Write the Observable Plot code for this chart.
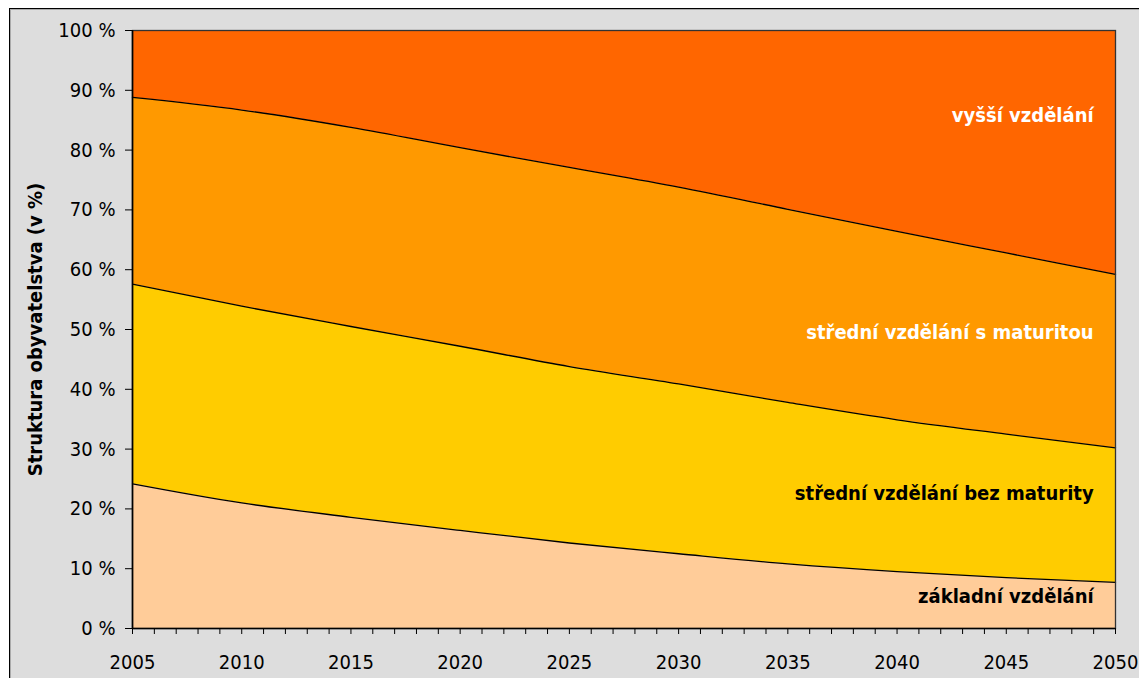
<!DOCTYPE html>
<html>
<head>
<meta charset="utf-8">
<script src="https://cdn.jsdelivr.net/npm/d3@7"></script>
<script src="https://cdn.jsdelivr.net/npm/@observablehq/plot@0.6"></script>
<style>
  html, body { margin: 0; padding: 0; background: #fff; width: 1139px; height: 678px; overflow: hidden; }
  #box { position: absolute; left: 9px; top: 8px; width: 1140px; height: 680px; background: #DDDDDD;
         border-left: 1.5px solid #000; border-top: 1.5px solid #000; box-shadow: inset 1px 1px 0 #aaa; }
  #chart { position: absolute; left: 0; top: 0; }
</style>
</head>
<body>
<div id="box"></div>
<div id="chart"></div>
<script>
const years = [2005, 2010, 2015, 2020, 2025, 2030, 2035, 2040, 2045, 2050];
const categories = ["základní vzdělání", "střední vzdělání bez maturity", "střední vzdělání s maturitou", "vyšší vzdělání"];
const zakladni   = [24.2, 21.0, 18.6, 16.4, 14.3, 12.5, 10.8, 9.5, 8.5, 7.7];
const bezMaturity = [33.4, 32.9, 31.9, 30.8, 29.5, 28.4, 27.0, 25.4, 24.0, 22.5];
const sMaturitou = [31.2, 32.8, 33.3, 33.2, 33.3, 32.9, 32.3, 31.5, 30.3, 29.0];
const vyssi      = [11.2, 13.3, 16.2, 19.6, 22.9, 26.2, 29.9, 33.6, 37.2, 40.8];
const yTicks = [0, 10, 20, 30, 40, 50, 60, 70, 80, 90, 100];
const yTitle = "Struktura obyvatelstva (v %)";

const series = [zakladni, bezMaturity, sMaturitou, vyssi];
const rows = [];
categories.forEach((cat, ci) => years.forEach((year, i) => rows.push({year, cat, value: series[ci][i]})));

const FONT = "'DejaVu Sans Condensed', 'DejaVu Sans', sans-serif";

const chart = Plot.plot({
  width: 1139,
  height: 678,
  marginLeft: 132,
  marginRight: 24,
  marginTop: 30,
  marginBottom: 50,
  x: {domain: [2005, 2050]},
  y: {domain: [0, 100]},
  color: {domain: categories, range: ["#FFCC99", "#FFCC00", "#FF9900", "#FF6600"]},
  style: {background: "transparent", fontFamily: FONT, fontSize: "20px", color: "#000"},
  marks: [
    Plot.areaY(rows, Plot.stackY({x: "year", y: "value", fill: "cat", order: categories, curve: "monotone-x"})),
    Plot.lineY(rows, Plot.stackY2({x: "year", y: "value", z: "cat", order: categories, curve: "monotone-x",
      filter: d => d.cat !== "vyšší vzdělání", stroke: "#000", strokeWidth: 1.3})),
    Plot.frame({stroke: "#333", strokeWidth: 1.3}),
    Plot.axisY({ticks: yTicks, tickSize: 7, tickPadding: 10, tickFormat: d => d + " %", label: null,
      fontSize: 20, stroke: "#000"}),
    Plot.axisX({ticks: d3.range(2005, 2051), tickSize: 6, tickPadding: 20,
      tickFormat: d => d % 5 === 0 ? String(d) : "", label: null, fontSize: 20, stroke: "#000"}),
    Plot.ruleX([2005], {stroke: "#000", strokeWidth: 1.6}),
    Plot.ruleY([0], {stroke: "#000", strokeWidth: 1.6}),
    Plot.text(categories, {
      x: () => 2049, y: (d, i) => [5.4, 22.6, 49.5, 85.7][i], text: d => d,
      textAnchor: "end", fontWeight: "bold", fontSize: 20,
      fill: (d, i) => i < 2 ? "#000" : "#fff"
    }),
    Plot.text([yTitle], {frameAnchor: "left", dx: -97, rotate: -90, text: d => d, textAnchor: "middle",
      fontWeight: "bold", fontSize: 20, fill: "#000"})
  ]
});
document.getElementById("chart").appendChild(chart);
</script>
</body>
</html>
